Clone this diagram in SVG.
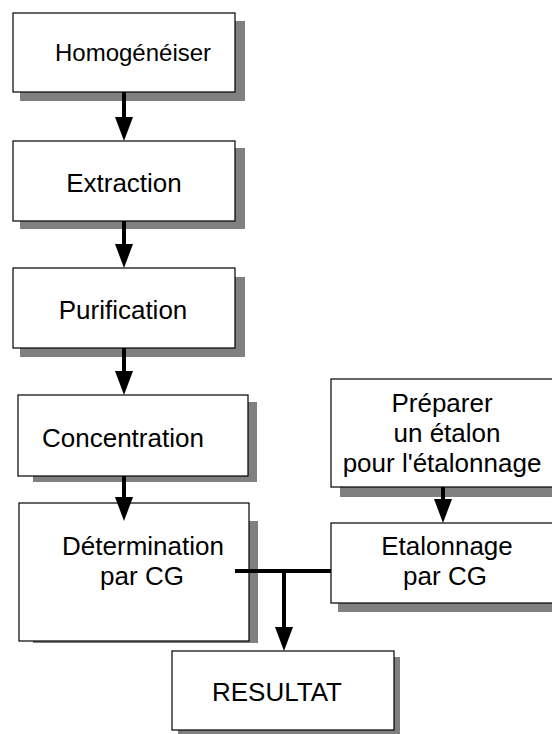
<svg xmlns="http://www.w3.org/2000/svg" width="552" height="734" viewBox="0 0 552 734">
<style>
.box{fill:#fff;stroke:#000;stroke-width:1.2}
.sh{fill:#808080}
.t{font-family:"Liberation Sans",Arial,sans-serif;font-size:26px;fill:#000}
.c{text-anchor:middle}
.ln{stroke:#000;stroke-width:4;fill:none}
</style>
<defs>
<marker id="ah" markerUnits="userSpaceOnUse" viewBox="0 0 24 18" markerWidth="24" markerHeight="18" refX="12" refY="9" orient="auto">
<path d="M0,0 L24,9 L0,18 z" fill="#000"/>
</marker>
</defs>
<g id="homogeneiser">
<rect class="sh" x="20" y="21" width="225" height="80"/>
<rect class="box" x="13" y="13" width="222" height="79"/>
<text class="t" x="55" y="61" style="font-size:24px">Homogénéiser</text>
</g>
<g id="extraction">
<rect class="sh" x="20" y="148" width="225" height="81"/>
<rect class="box" x="13" y="141" width="222" height="80"/>
<text class="t c" x="124" y="192">Extraction</text>
</g>
<g id="purification">
<rect class="sh" x="20" y="277" width="225" height="80"/>
<rect class="box" x="13" y="268" width="222" height="80"/>
<text class="t c" x="123" y="319">Purification</text>
</g>
<g id="concentration">
<rect class="sh" x="33" y="402" width="224" height="80"/>
<rect class="box" x="18" y="395" width="230" height="81"/>
<text class="t" x="42" y="447">Concentration</text>
</g>
<g id="determination">
<rect class="sh" x="33" y="521" width="225" height="122"/>
<rect class="box" x="19" y="503" width="230" height="138"/>
<text class="t c" x="143" y="555">Détermination</text>
<text class="t c" x="142" y="585">par CG</text>
</g>
<g id="preparer">
<rect class="sh" x="340" y="387" width="230" height="110"/>
<rect class="box" x="331" y="379" width="230" height="108"/>
<text class="t c" x="442" y="412">Préparer</text>
<text class="t c" x="447" y="442">un étalon</text>
<text class="t c" x="442" y="472">pour l'étalonnage</text>
</g>
<g id="etalonnage">
<rect class="sh" x="338" y="531" width="230" height="81"/>
<rect class="box" x="331" y="523" width="230" height="80"/>
<text class="t c" x="447" y="555">Etalonnage</text>
<text class="t c" x="445" y="585">par CG</text>
</g>
<g id="resultat">
<rect class="sh" x="178" y="657" width="222" height="80"/>
<rect class="box" x="172" y="651" width="222" height="79"/>
<text class="t c" x="277" y="701">RESULTAT</text>
</g>
<g id="connectors">
<line class="ln" x1="124" y1="92" x2="124" y2="129" marker-end="url(#ah)"/>
<line class="ln" x1="124" y1="221" x2="124" y2="256" marker-end="url(#ah)"/>
<line class="ln" x1="124" y1="348" x2="124" y2="383" marker-end="url(#ah)"/>
<line class="ln" x1="124" y1="476" x2="124" y2="509" marker-end="url(#ah)"/>
<line class="ln" x1="443" y1="487" x2="443" y2="511" marker-end="url(#ah)"/>
<line class="ln" x1="235" y1="571" x2="331" y2="571"/>
<line class="ln" x1="284" y1="569" x2="284" y2="639" marker-end="url(#ah)"/>
</g>
</svg>
